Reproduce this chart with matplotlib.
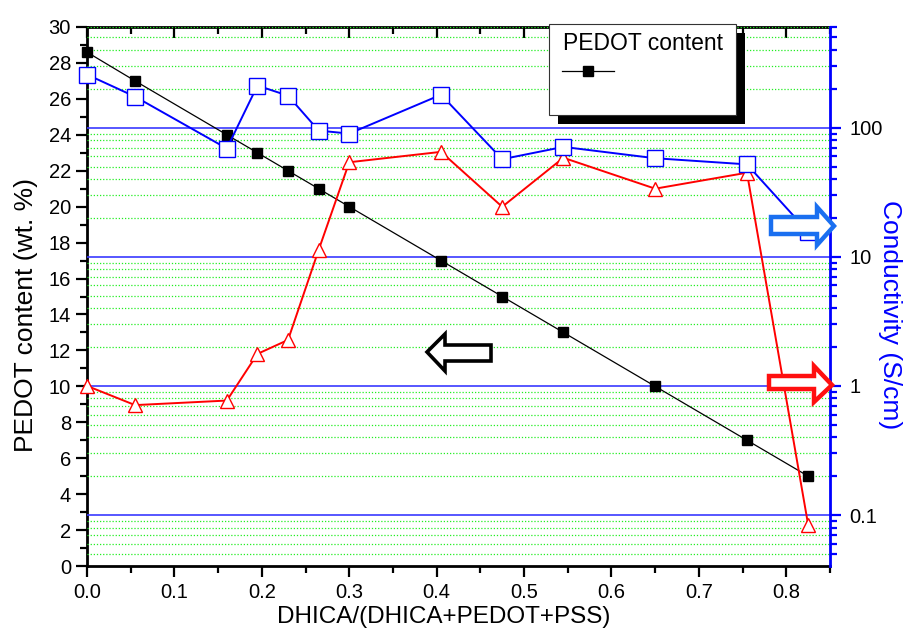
import matplotlib
matplotlib.use('Agg')
import matplotlib.pyplot as plt
from matplotlib.patches import Polygon, Rectangle
from matplotlib.lines import Line2D
from matplotlib.ticker import MultipleLocator, FixedLocator, FormatStrFormatter, NullFormatter

plt.rcParams['font.family'] = ['Liberation Sans', 'DejaVu Sans']

# data
ratio = [0, 0.055, 0.16, 0.195, 0.23, 0.265, 0.3, 0.405, 0.475, 0.545, 0.65, 0.755, 0.825]
pedot = [28.6, 27, 24, 23, 22, 21, 20, 17, 15, 13, 10, 7, 5]
cond_blue = [258, 174, 69, 212, 177, 95, 90, 180, 57, 71, 58, 52, 15.6]
cond_red = [1.0, 0.71, 0.77, 1.77, 2.27, 11.3, 54, 65, 24.4, 58.5, 33.7, 44.8, 0.084]
cond_ticks = [0.1, 1, 10, 100]
cond_labels = ['0.1', '1', '10', '100']

W, H = 909, 630
fig = plt.figure(figsize=(W/100, H/100), dpi=100)
ax1 = fig.add_axes([87/W, 1-566/H, (830-87)/W, (566-27)/H])
ax2 = ax1.twinx()

def px(x, y):
    return (x/W, 1-y/H)

# right (log) axis with the grid
ax2.set_yscale('log')
ax2.set_ylim(10**-1.395, 10**2.78)
ax2.yaxis.set_major_locator(FixedLocator(cond_ticks))
ax2.yaxis.set_major_formatter(plt.FixedFormatter(cond_labels))
ax2.yaxis.set_minor_locator(matplotlib.ticker.LogLocator(base=10, subs=range(2, 10)))
ax2.yaxis.set_minor_formatter(NullFormatter())
ax2.set_axisbelow(True)
ax2.yaxis.grid(True, which='major', color='#3a3aff', lw=1.2)
ax2.yaxis.grid(True, which='minor', color='#22ee22', lw=0.9, ls=(0, (1, 1.5)))

ax1.set_xlim(0, 0.85)
ax1.set_ylim(0, 30)
ax1.xaxis.set_major_locator(MultipleLocator(0.1))
ax1.xaxis.set_minor_locator(MultipleLocator(0.05))
ax1.xaxis.set_major_formatter(FormatStrFormatter('%.1f'))
ax1.yaxis.set_major_locator(MultipleLocator(2))
ax1.yaxis.set_minor_locator(MultipleLocator(1))

# series
ax2.plot(ratio, pedot, color='black', lw=0.9, marker='s', ms=7.5,
         mfc='black', mec='black', transform=ax1.transData, zorder=2, clip_on=False)
ax2.plot(ratio, cond_red, color='red', lw=1.4, marker='^', ms=10.5,
         mfc='white', mec='red', mew=1, zorder=3, clip_on=False)
ax2.plot(ratio, cond_blue, color='blue', lw=1.4, marker='s', ms=11.5,
         mfc='white', mec='blue', mew=1, zorder=4, clip_on=False)

# spines and ticks
for s in ['left', 'bottom', 'top']:
    ax1.spines[s].set_linewidth(2)
    ax2.spines[s].set_visible(False)
ax1.spines['right'].set_visible(False)
ax2.spines['right'].set_color('blue')
ax2.spines['right'].set_linewidth(2)
ax1.tick_params(axis='both', which='major', length=8, width=1.6, labelsize=14.5, direction='out')
ax1.tick_params(axis='both', which='minor', length=5, width=1.6, direction='out')
ax1.tick_params(axis='x', which='major', pad=4.4)
ax1.tick_params(axis='y', right=False, which='both')
ax2.xaxis.set_visible(True)
ax2.tick_params(axis='x', which='both', bottom=False, top=True, labelbottom=False,
                labeltop=False, direction='in', width=1.6)
ax2.tick_params(axis='x', which='major', length=8)
ax2.tick_params(axis='x', which='minor', length=5)
ax2.tick_params(axis='y', which='major', length=8, width=1.6, color='blue', labelsize=14.5,
                labelcolor='black', pad=6)
ax2.tick_params(axis='y', which='minor', length=5, width=1.6, color='blue')

ax1.set_xlabel('DHICA/(DHICA+PEDOT+PSS)', fontsize=17.5)
ax1.xaxis.set_label_coords(0.48, -0.0735)
ax1.set_ylabel('PEDOT content (wt. %)', fontsize=19)
ax1.yaxis.set_label_coords(-0.066, 0.466)
ax2.set_ylabel('Conductivity (S/cm)', fontsize=19, color='blue', rotation=270, va='bottom')
ax2.yaxis.set_label_coords(1.064, 0.466)

# arrows
black_arrow = [(491, 345), (445, 345), (445, 334), (427, 352), (445, 371), (445, 361), (491, 361)]
blue_arrow = [(771, 217), (817, 217), (817, 207), (834, 226), (817, 245), (817, 234), (771, 234)]
red_arrow = [(769, 376), (814, 376), (814, 366), (832, 385), (814, 402), (814, 389), (769, 389)]
for pts, col, lw in [(black_arrow, 'black', 2.6), (blue_arrow, '#1a6ff0', 3.2), (red_arrow, '#ff1010', 3.2)]:
    fig.patches.append(Polygon([px(*p) for p in pts], closed=True, fc='white', ec=col, lw=lw,
                               transform=fig.transFigure, zorder=5, joinstyle='miter'))

# legend with solid shadow
x0, y0 = px(558, 124)
fig.patches.append(Rectangle((x0, y0), (745-558)/W, (124-33)/H, fc='black', ec='none',
                             transform=fig.transFigure, zorder=6))
x0, y0 = px(549, 115)
fig.patches.append(Rectangle((x0, y0), (736-549)/W, (115-24)/H, fc='white', ec='#333333', lw=0.8,
                             transform=fig.transFigure, zorder=7))
fig.text(*px(563, 44), 'PEDOT content', fontsize=16.5, va='center', ha='left', zorder=8)
fig.lines.append(Line2D([562/W, 614/W], [1-71/H, 1-71/H], color='black', lw=0.9,
                        transform=fig.transFigure, zorder=8))
fig.lines.append(Line2D([588/W], [1-71/H], marker='s', ms=7.5, color='black', ls='none',
                        transform=fig.transFigure, zorder=9))

fig.savefig('out.png', dpi=100)
